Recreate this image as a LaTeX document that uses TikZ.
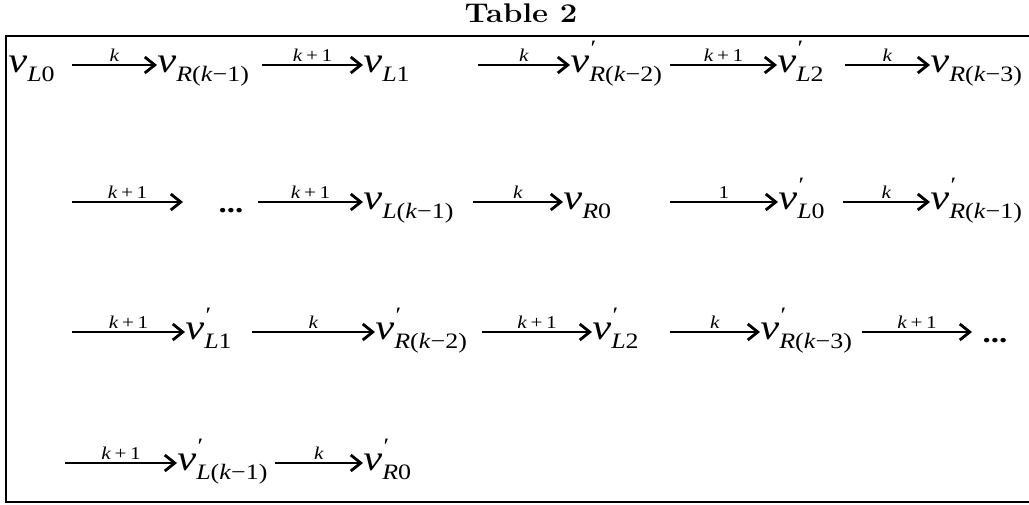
\documentclass[tikz,border=0pt]{standalone}
\usepackage{fontspec}
\usepackage{graphicx}
\usetikzlibrary{arrows.meta,positioning}
\newfontfamily\tnr{Liberation Serif}
\newcommand{\sx}[1]{\scalebox{1.18}[1]{#1}}
\newcommand{\subf}{\fontsize{11}{11}\selectfont}
\newcommand{\vv}[1]{\sx{\textit{v}\raisebox{-4.5pt}{\subf #1}}}
\newcommand{\vp}[1]{\sx{\textit{v}\rlap{\kern0.6pt\raisebox{8.5pt}{\subf ′}}\raisebox{-4.5pt}{\subf #1}}}
\tikzset{
  vtx/.style={inner sep=0pt, anchor=base west, font=\tnr\fontsize{18}{18}\selectfont},
  lbl/.style={above, inner sep=1.5pt, font=\tnr\fontsize{9}{9}\selectfont},
  arr/.style={line width=0.8pt, -{Straight Barb[length=5pt,width=8pt,line width=1.4pt]}},
  dotsbox/.style={inner sep=0pt, anchor=base, font=\tnr\fontsize{14}{14}\selectfont\bfseries}
}

\begin{document}
\begin{tikzpicture}[x=0.5pt,y=-0.5pt]
\useasboundingbox (0,0) rectangle (1029,504);
\node[anchor=base] (title) at (521,22) {\scalebox{1.15}[1]{\fontsize{13.5}{15}\selectfont\bfseries Table 2}};
\coordinate (bTR) at (1029,36);
\coordinate (bTL) at (6,36);
\coordinate (bBL) at (6,502);
\coordinate (bBR) at (1029,502);
\draw[line width=1pt] (bTR) -- (bTL) -- (bBL) -- (bBR);
% row 1
\node[vtx] (vLa) at (8,72) {\vv{\textit{L}0}};
\node[vtx] (vRa) at (157,72) {\vv{\textit{R}(\textit{k}−1)}};
\node[vtx] (vLb) at (363,72) {\vv{\textit{L}1}};
\node[vtx] (vRb) at (570,72) {\vp{\textit{R}(\textit{k}−2)}};
\node[vtx] (vLc) at (777,72) {\vp{\textit{L}2}};
\node[vtx] (vRc) at (930,72) {\vv{\textit{R}(\textit{k}−3)}};
\coordinate (a1) at (72,65);
\coordinate (a2) at (262,65);
\coordinate (a3) at (478,65);
\coordinate (a4) at (670,65);
\coordinate (a5) at (845,65);
\draw[arr] (a1) -- (vRa.west |- a1) node[lbl,midway] {\sx{\textit{k}}};
\draw[arr] (a2) -- (vLb.west |- a2) node[lbl,midway] {\sx{\textit{k}\,+\,1}};
\draw[arr] (a3) -- (vRb.west |- a3) node[lbl,midway] {\sx{\textit{k}}};
\draw[arr] (a4) -- (vLc.west |- a4) node[lbl,midway] {\sx{\textit{k}\,+\,1}};
\draw[arr] (a5) -- (vRc.west |- a5) node[lbl,midway] {\sx{\textit{k}}};
% row 2
\node[dotsbox] (dA) at (231,212) {\sx{...}};
\node[vtx] (vLd) at (363,209) {\vv{\textit{L}(\textit{k}−1)}};
\node[vtx] (vRd) at (563,209) {\vv{\textit{R}0}};
\node[vtx] (vLe) at (778,209) {\vp{\textit{L}0}};
\node[vtx] (vRe) at (930,209) {\vp{\textit{R}(\textit{k}−1)}};
\coordinate (b1) at (72,202);
\coordinate (b1e) at (183,202);
\coordinate (b2) at (258,202);
\coordinate (b3) at (473,202);
\coordinate (b4) at (670,202);
\coordinate (b5) at (843,202);
\draw[arr] (b1) -- (b1e) node[lbl,midway] {\sx{\textit{k}\,+\,1}};
\draw[arr] (b2) -- (vLd.west |- b2) node[lbl,midway] {\sx{\textit{k}\,+\,1}};
\draw[arr] (b3) -- (vRd.west |- b3) node[lbl,midway] {\sx{\textit{k}}};
\draw[arr] (b4) -- (vLe.west |- b4) node[lbl,midway] {\sx{1}};
\draw[arr] (b5) -- (vRe.west |- b5) node[lbl,midway] {\sx{\textit{k}}};
% row 3
\node[vtx] (vLf) at (185,339) {\vp{\textit{L}1}};
\node[vtx] (vRf) at (375,339) {\vp{\textit{R}(\textit{k}−2)}};
\node[vtx] (vLg) at (592,339) {\vp{\textit{L}2}};
\node[vtx] (vRg) at (760,339) {\vp{\textit{R}(\textit{k}−3)}};
\node[dotsbox] (dB) at (995,342) {\sx{...}};
\coordinate (c1) at (72,332);
\coordinate (c2) at (252,332);
\coordinate (c3) at (482,332);
\coordinate (c4) at (670,332);
\coordinate (c5) at (862,332);
\coordinate (c5e) at (972,332);
\draw[arr] (c1) -- (vLf.west |- c1) node[lbl,midway] {\sx{\textit{k}\,+\,1}};
\draw[arr] (c2) -- (vRf.west |- c2) node[lbl,midway] {\sx{\textit{k}}};
\draw[arr] (c3) -- (vLg.west |- c3) node[lbl,midway] {\sx{\textit{k}\,+\,1}};
\draw[arr] (c4) -- (vRg.west |- c4) node[lbl,midway] {\sx{\textit{k}}};
\draw[arr] (c5) -- (c5e) node[lbl,midway] {\sx{\textit{k}\,+\,1}};
% row 4
\node[vtx] (vLh) at (177,470) {\vp{\textit{L}(\textit{k}−1)}};
\node[vtx] (vRh) at (363,470) {\vp{\textit{R}0}};
\coordinate (d1) at (65,463);
\coordinate (d2) at (275,463);
\draw[arr] (d1) -- (vLh.west |- d1) node[lbl,midway] {\sx{\textit{k}\,+\,1}};
\draw[arr] (d2) -- (vRh.west |- d2) node[lbl,midway] {\sx{\textit{k}}};
\end{tikzpicture}
\end{document}
